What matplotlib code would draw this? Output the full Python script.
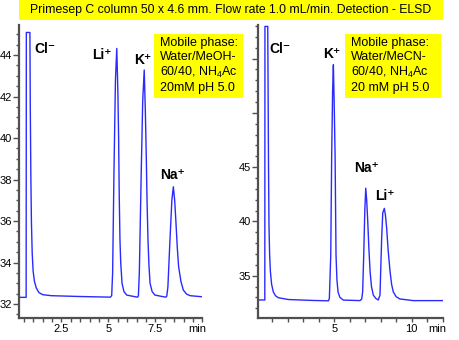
import matplotlib
matplotlib.use("Agg")
import matplotlib.pyplot as plt
from matplotlib.patches import Rectangle
from matplotlib.ticker import MultipleLocator, FixedLocator

plt.rcParams['font.family'] = ['Liberation Sans', 'DejaVu Sans']
plt.rcParams['mathtext.fontset'] = 'custom'
plt.rcParams['mathtext.rm'] = 'Liberation Sans'

# Trace: MeOH panel (time, min / signal)
meoh_time = [0.24, 0.62, 0.63, 0.82, 0.84, 0.87, 0.90, 0.94, 0.99, 1.06, 1.16, 1.30, 1.50, 1.96, 3.5, 5.10,
             5.17, 5.22, 5.29, 5.37, 5.44, 5.50, 5.54, 5.57, 5.61, 5.65, 5.72, 5.82, 5.97, 6.41, 6.55,
             6.59, 6.64, 6.74, 6.82, 6.90, 6.96, 7.01, 7.05, 7.10, 7.15, 7.21, 7.32, 7.47, 7.91, 8.05,
             8.10, 8.16, 8.27, 8.37, 8.45, 8.52, 8.59, 8.66, 8.73, 8.85, 8.98, 9.15, 9.34, 9.96]
meoh_signal = [32.32, 32.32, 45.09, 45.09, 41.5, 38.2, 36.0, 34.5, 33.6, 33.1, 32.77, 32.55, 32.45, 32.40, 32.36, 32.33,
               32.40, 33.5, 38.3, 42.8, 44.32, 42.2, 39.9, 37.3, 35.1, 34.0, 33.0, 32.6, 32.43, 32.35, 32.33,
               32.40, 33.5, 38.3, 41.8, 43.28, 41.3, 39.1, 37.0, 35.1, 33.9, 33.0, 32.6, 32.43, 32.35, 32.33,
               32.38, 32.83, 35.1, 37.0, 37.65, 37.0, 35.9, 34.7, 33.8, 33.1, 32.67, 32.48, 32.40, 32.35]

# MeCN panel
mecn_time = [0.09, 0.51, 0.52, 0.70, 0.72, 0.75, 0.78, 0.82, 0.87, 0.95, 1.06, 1.20, 1.38, 2.03, 3.5, 4.62,
             4.68, 4.77, 4.83, 4.89, 4.94, 4.99, 5.05, 5.11, 5.17, 5.24, 5.36, 5.58, 6.66,
             6.77, 6.83, 6.90, 6.97, 7.03, 7.09, 7.16, 7.23, 7.31, 7.40, 7.52, 7.68, 7.84,
             7.95, 8.06, 8.13, 8.23, 8.30, 8.38, 8.48, 8.60, 8.70, 8.81, 9.0, 9.24, 10.1, 12.04]
mecn_signal = [32.76, 32.76, 57.97, 57.97, 53.0, 45.0, 39.7, 37.0, 35.4, 34.2, 33.5, 33.15, 32.97, 32.80, 32.72, 32.68,
               32.9, 36.9, 46.1, 52.0, 54.44, 51.0, 46.1, 36.9, 34.6, 33.5, 33.0, 32.75, 32.70,
               32.85, 33.5, 36.9, 41.0, 43.06, 42.0, 40.0, 37.6, 35.4, 34.0, 33.2, 32.9, 32.76,
               33.2, 38.5, 40.8, 41.2, 40.6, 39.4, 37.3, 35.4, 34.2, 33.5, 33.05, 32.85, 32.70, 32.70]

meoh_peaks = ['Cl\u207b', 'Li\u207a', 'K\u207a', 'Na\u207a']
meoh_label_x = [1.62, 4.65, 6.84, 8.43]
meoh_label_y = [44.29, 44.0, 43.76, 38.22]
mecn_peaks = ['Cl\u207b', 'K\u207a', 'Na\u207a', 'Li\u207a']
mecn_label_x = [1.49, 4.85, 7.11, 8.27]
mecn_label_y = [55.9, 55.45, 44.94, 42.36]

title = "Primesep C column 50 x 4.6 mm. Flow rate 1.0 mL/min. Detection - ELSD"
meoh_phase = "Mobile phase:\nWater/MeOH-\n60/40, NH$_4$Ac\n20mM pH 5.0"
mecn_phase = "Mobile phase:\nWater/MeCN-\n60/40, NH$_4$Ac\n20 mM pH 5.0"

W, H = 460, 340
line_color = '#2a2aff'
axis_color = '#505050'
yellow = '#ffff00'

fig = plt.figure(figsize=(W / 100, H / 100), dpi=100)


def px_rect(x0, y0, x1, y1):
    # pixel box (top-left origin) -> figure fraction [left, bottom, width, height]
    return [x0 / W, 1 - y1 / H, (x1 - x0) / W, (y1 - y0) / H]


def style_axes(ax):
    for side in ['top', 'right']:
        ax.spines[side].set_visible(False)
    for side in ['left', 'bottom']:
        ax.spines[side].set_color(axis_color)
        ax.spines[side].set_linewidth(1.6)
    ax.tick_params(which='both', colors=axis_color, labelcolor='black', labelsize=8, width=1, pad=1)
    ax.tick_params(which='major', length=4)
    ax.tick_params(which='minor', length=2.5)
    ax.tick_params(axis='x', which='both', length=3)


def peak_label(ax, x, y, lab):
    ax.text(x, y, lab, ha='center', va='center', fontsize=10, fontweight='bold',
            family=['Liberation Sans', 'DejaVu Sans'])


ax1 = fig.add_axes(px_rect(19, 25, 202.5, 318.3))
ax1.plot(meoh_time, meoh_signal, color=line_color, lw=1.0)
ax1.set_xlim(0.24, 10.0)
ax1.set_ylim(31.31, 45.45)
style_axes(ax1)
ax1.xaxis.set_major_locator(FixedLocator([2.5, 5, 7.5]))
ax1.set_xticklabels(['2.5', '5', '7.5'])
ax1.xaxis.set_minor_locator(MultipleLocator(0.5))
ax1.yaxis.set_major_locator(MultipleLocator(2))
ax1.yaxis.set_minor_locator(MultipleLocator(0.5))
for lab, x, y in zip(meoh_peaks, meoh_label_x, meoh_label_y):
    peak_label(ax1, x, y, lab)

ax2 = fig.add_axes(px_rect(258.3, 25, 443.3, 318.3))
ax2.plot(mecn_time, mecn_signal, color=line_color, lw=1.0)
ax2.set_xlim(0.09, 12.04)
ax2.set_ylim(31.07, 58.1)
style_axes(ax2)
ax2.xaxis.set_major_locator(FixedLocator([5, 10]))
ax2.xaxis.set_minor_locator(MultipleLocator(1))
ax2.yaxis.set_major_locator(FixedLocator([35, 40, 45, 50, 55]))
ax2.set_yticklabels(['35', '40', '45', '', ''])
ax2.yaxis.set_minor_locator(MultipleLocator(1))
for lab, x, y in zip(mecn_peaks, mecn_label_x, mecn_label_y):
    peak_label(ax2, x, y, lab)

# "min" unit labels under the x axes
fig.text(197 / W, 1 - 329 / H, "min", ha='center', va='center', fontsize=8)
fig.text(437 / W, 1 - 329 / H, "min", ha='center', va='center', fontsize=8)

# yellow boxes
for x0, y0, x1, y1 in [(19, 0, 443, 20), (154, 34.3, 243, 97.7), (345, 34.3, 441, 97.7)]:
    r = px_rect(x0, y0, x1, y1)
    fig.add_artist(Rectangle((r[0], r[1]), r[2], r[3], transform=fig.transFigure,
                             facecolor=yellow, edgecolor='none', zorder=5))

fig.text(231 / W, 1 - 10 / H, title, ha='center', va='center', fontsize=8.8, zorder=6)
fig.text(160 / W, 1 - 37 / H, meoh_phase, ha='left', va='top', fontsize=9,
         linespacing=1.2, zorder=6)
fig.text(351 / W, 1 - 37 / H, mecn_phase, ha='left', va='top', fontsize=9,
         linespacing=1.2, zorder=6)

fig.savefig("out.png", dpi=100)
